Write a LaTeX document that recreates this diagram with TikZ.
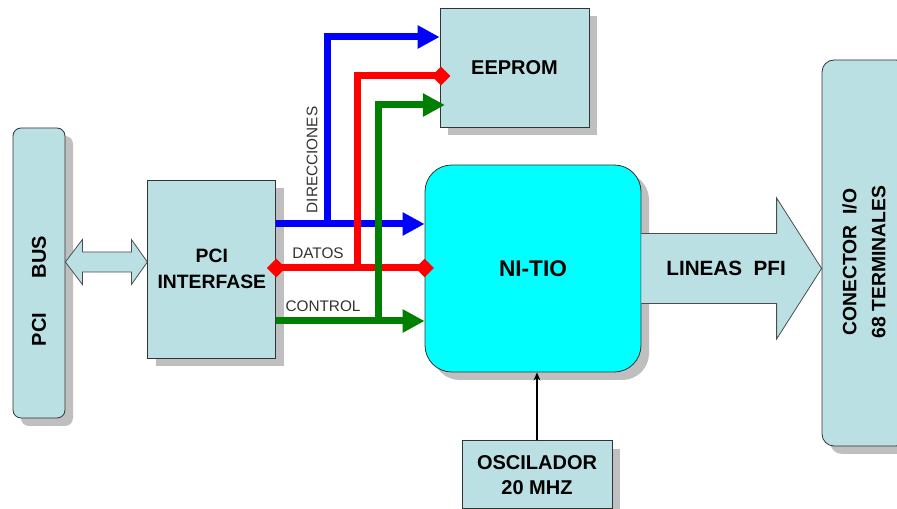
\documentclass[tikz,border=0pt]{standalone}
\usepackage{fontspec}
\setmainfont{Liberation Sans}
\usetikzlibrary{arrows.meta, positioning, shadows, calc}
\definecolor{boxfill}{HTML}{BBE0E3}
\definecolor{busblue}{HTML}{0000FF}
\definecolor{busred}{HTML}{FF0000}
\definecolor{busgreen}{HTML}{008000}
\definecolor{tiocyan}{HTML}{00FFFF}

\begin{document}
\begin{tikzpicture}[
  x=0.75pt, y=-0.75pt,
  block/.style={rectangle, draw=black!80, line width=0.6pt, fill=boxfill, inner sep=0pt, align=center,
    drop shadow={shadow xshift=6pt, shadow yshift=-6pt, fill=black!25, opacity=1}},
  bus/.style={line width=5.25pt},
  tri/.style={-{Triangle[length=16.5pt, width=16.5pt]}},
  dia/.style={{Diamond[length=14pt, width=14pt]}-{Diamond[length=14pt, width=14pt]}, shorten <=-7pt, shorten >=-7pt},
  dmd/.style={-{Diamond[length=14pt, width=14pt]}, shorten >=-8pt},
  buslabel/.style={font=\fontsize{11.5}{14}\selectfont, text=black!80, inner sep=0pt},
  fat/.style={draw=black!70, line width=0.6pt, fill=boxfill}
]
  \fill[white] (0,0) rectangle (897,509);
  \useasboundingbox (0,0) rectangle (897,509);

  % blocks
  \node[block, rounded corners=6pt, minimum width=39pt, minimum height=217.5pt,
    font=\fontsize{15}{18}\selectfont\bfseries] (pcibus) at (39,273)
    {\rotatebox{90}{PCI\hspace{26pt}BUS\hspace{27pt}}};
  \node[block, minimum width=96pt, minimum height=133.5pt, right=61.5pt of pcibus, yshift=3pt,
    font=\fontsize{14.5}{19}\selectfont\bfseries] (pciif) {PCI\\INTERFASE};
  \node[block, minimum width=111.75pt, minimum height=89.25pt,
    font=\fontsize{15}{18}\selectfont\bfseries] (eeprom) at (514.5,67.5) {EEPROM};
  \node[block, fill=tiocyan, rounded corners=20pt, minimum width=162pt, minimum height=155.25pt,
    font=\fontsize{17}{20}\selectfont\bfseries] (nitio) at (533,268.5) {NI-TIO};
  \node[block, minimum width=112.5pt, minimum height=51pt, below=51pt of nitio, xshift=3pt,
    font=\fontsize{15}{19}\selectfont\bfseries] (osc) {OSCILADOR\\20 MHZ};
  \node[block, rounded corners=9pt, minimum width=64.5pt, minimum height=289.5pt,
    font=\fontsize{14.5}{21.75}\selectfont\bfseries] (conector) at (865,253)
    {\rotatebox{90}{\begin{tabular}{@{}c@{}}CONECTOR\ \ I/O\\68 TERMINALES\end{tabular}\hspace{13.5pt}}};

  % PCI bus <-> interfase
  \coordinate (pcimid) at (0,262);
  \coordinate (pl) at (pcibus.east |- pcimid);
  \coordinate (pr) at (pciif.west |- pcimid);
  \draw[fat] (pl) -- ++(17,-22.5) -- ++(0,12.5) -- ($(pr)+(-16,-10)$) -- ++(0,-12.5) -- (pr)
    -- ++(-16,22.5) -- ++(0,-12.5) -- ($(pl)+(17,10)$) -- ++(0,12.5) -- cycle;

  % buses
  \coordinate (dirY) at (0,224);
  \coordinate (datY) at (0,268);
  \coordinate (ctlY) at (0,321);
  \coordinate (dirX) at (327,37);
  \coordinate (datX) at (357,76);
  \coordinate (ctlX) at (378,105);

  \draw[bus, busblue, tri] (pciif.east |- dirY) -- (nitio.west |- dirY);
  \draw[bus, busblue, tri] (dirX |- dirY) |- (eeprom.west |- dirX);
  \draw[bus, busred, dia] (pciif.east |- datY) -- (nitio.west |- datY);
  \draw[bus, busred, dmd] (datX |- datY) |- (eeprom.west |- datX);
  \draw[bus, busgreen, tri] (pciif.east |- ctlY) -- (nitio.west |- ctlY);
  \draw[bus, busgreen, tri, shorten >=-4pt] (ctlX |- ctlY) |- (eeprom.west |- ctlX);

  \node[buslabel, rotate=90] (dirlbl) at (312,160) {DIRECCIONES};
  \node[buslabel] (datlbl) at (318,253) {DATOS};
  \node[buslabel] (ctllbl) at (323,306) {CONTROL};

  % PFI lines
  \coordinate (pfitip) at (conector.west |- nitio.east);
  \draw[fat] ($(nitio.east)+(0,-35)$) -- ($(pfitip)+(-45,-35)$) -- ($(pfitip)+(-45,-70.5)$) -- (pfitip)
    -- ($(pfitip)+(-45,70.5)$) -- ($(pfitip)+(-45,35)$) -- ($(nitio.east)+(0,35)$);
  \node[font=\fontsize{15.5}{18}\selectfont\bfseries] (pfi) at ($(nitio.east)!0.47!(pfitip)$) {LINEAS\ \ PFI};

  % clock
  \draw[-{Stealth[length=6pt, width=5pt]}, line width=1.5pt] (osc.north) -- (osc.north |- nitio.south);
\end{tikzpicture}
\end{document}
